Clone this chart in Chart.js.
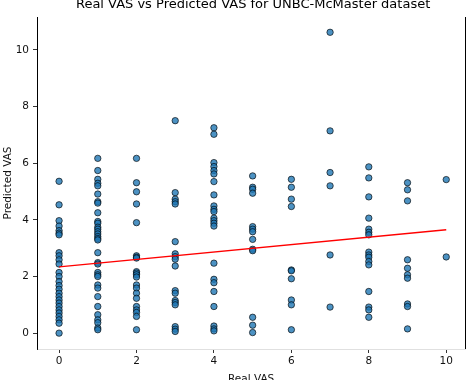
<!DOCTYPE html>
<html>
<head>
<meta charset="utf-8">
<script src="https://cdn.jsdelivr.net/npm/chart.js@4/dist/chart.umd.min.js"></script>
<style>
  html, body { margin: 0; padding: 0; background: #ffffff; }
  #c { display: block; }
</style>
</head>
<body>
<canvas id="c" width="470" height="380"></canvas>
<script>
// ---- Data ----
const chartTitle = 'Real VAS vs Predicted VAS for UNBC-McMaster dataset';
const xLabel = 'Real VAS';
const yLabel = 'Predicted VAS';

const xTicks = [0, 2, 4, 6, 8, 10];
const yTicks = [0, 2, 4, 6, 8, 10];

// Predicted VAS values for each Real VAS level
const pred0 = [5.36, 4.53, 3.97, 3.78, 3.62, 3.53, 3.47, 2.84, 2.73, 2.59, 2.44, 2.14, 2.0, 1.82, 1.68, 1.55, 1.41, 1.29, 1.17, 1.06, 0.94, 0.82, 0.71, 0.59, 0.47, 0.35, 0.0];
const pred1 = [6.17, 5.74, 5.43, 5.29, 5.2, 4.91, 4.64, 4.59, 4.25, 3.94, 3.88, 3.74, 3.67, 3.58, 3.5, 3.41, 3.34, 3.29, 2.84, 2.49, 2.44, 2.14, 2.06, 2.0, 1.70, 1.59, 1.29, 0.94, 0.65, 0.47, 0.37, 0.18, 0.12];
const pred2 = [6.17, 5.31, 4.99, 4.56, 3.90, 2.73, 2.68, 2.65, 2.17, 2.12, 2.06, 1.98, 1.70, 1.59, 1.41, 1.23, 0.94, 0.82, 0.73, 0.59, 0.12];
const pred3 = [7.5, 4.96, 4.73, 4.64, 4.56, 3.23, 2.80, 2.70, 2.61, 2.37, 1.50, 1.41, 1.15, 1.08, 1.0, 0.23, 0.14, 0.06];
const pred4 = [7.25, 7.02, 6.02, 5.88, 5.74, 5.62, 5.35, 4.88, 4.49, 4.37, 4.29, 4.06, 3.97, 3.88, 3.78, 2.47, 1.90, 1.78, 1.47, 0.94, 0.25, 0.15, 0.08];
const pred5 = [5.55, 5.15, 5.08, 4.94, 3.76, 3.67, 3.58, 3.31, 2.96, 2.91, 0.56, 0.28, 0.02];
const pred6 = [5.43, 5.15, 4.73, 4.47, 2.23, 2.20, 1.92, 1.17, 1.0, 0.12];
const pred7 = [10.62, 7.14, 5.67, 5.2, 2.76, 0.92];
const pred8 = [5.87, 5.48, 4.81, 4.06, 3.67, 3.56, 3.47, 2.86, 2.76, 2.68, 2.53, 2.41, 1.47, 0.92, 0.82, 0.56];
const pred9 = [5.31, 5.06, 4.67, 2.59, 2.29, 2.06, 1.94, 1.03, 0.94, 0.15];
const pred10 = [5.42, 2.69];

const realLevels = [0, 1, 2, 3, 4, 5, 6, 7, 8, 9, 10];
const predByLevel = [pred0, pred1, pred2, pred3, pred4, pred5, pred6, pred7, pred8, pred9, pred10];

// Fitted regression line endpoints
const fitX = [0, 10];
const fitY = [2.34, 3.65];

// ---- Build chart data ----
const scatterPoints = [];
realLevels.forEach((lv, i) => {
  predByLevel[i].forEach(v => scatterPoints.push({ x: lv, y: v }));
});
const fitPoints = fitX.map((x, i) => ({ x: x, y: fitY[i] }));

const FONT = '"DejaVu Sans", "Liberation Sans", sans-serif';

const framePlugin = {
  id: 'frame',
  afterDraw(chart) {
    const { ctx, chartArea } = chart;
    ctx.save();
    // right spine
    ctx.strokeStyle = '#000';
    ctx.lineWidth = 1;
    ctx.beginPath();
    ctx.moveTo(Math.round(chartArea.right) + 0.5, chartArea.top);
    ctx.lineTo(Math.round(chartArea.right) + 0.5, chartArea.bottom);
    ctx.stroke();
    // title
    ctx.fillStyle = '#000';
    ctx.font = '13px ' + FONT;
    ctx.textAlign = 'center';
    ctx.textBaseline = 'alphabetic';
    ctx.fillText(chartTitle, (chartArea.left + chartArea.right) / 2 + 2, 8);
    ctx.restore();
  }
};

new Chart(document.getElementById('c'), {
  type: 'scatter',
  data: {
    datasets: [
      {
        type: 'line',
        data: fitPoints,
        borderColor: '#ff0000',
        borderWidth: 1.4,
        pointRadius: 0,
        fill: false,
        showLine: true,
        order: 0
      },
      {
        data: scatterPoints,
        backgroundColor: 'rgba(31,119,180,0.8)',
        borderColor: 'rgba(0,0,0,0.8)',
        borderWidth: 0.8,
        pointRadius: 3.2,
        order: 1
      }
    ]
  },
  options: {
    responsive: false,
    animation: false,
    devicePixelRatio: 1,
    layout: { padding: { top: 17, right: 4, left: 0, bottom: 0 } },
    plugins: {
      legend: { display: false },
      tooltip: { enabled: false },
      title: { display: false }
    },
    scales: {
      x: {
        type: 'linear',
        min: -0.57,
        max: 10.49,
        afterFit(scale) { scale.height = 31; },
        afterBuildTicks(scale) { scale.ticks = xTicks.map(v => ({ value: v })); },
        grid: {
          display: true,
          drawOnChartArea: false,
          drawTicks: true,
          tickLength: 4,
          color: '#000',
          lineWidth: 0.8
        },
        border: { display: true, color: '#e0e0e0', width: 1 },
        ticks: {
          color: '#111',
          padding: 2,
          maxRotation: 0,
          autoSkip: false,
          font: { family: FONT, size: 10.5 }
        },
        title: {
          display: true,
          text: xLabel,
          color: '#111',
          font: { family: FONT, size: 10.5 },
          padding: { top: 0, bottom: -6 }
        }
      },
      y: {
        type: 'linear',
        min: -0.56,
        max: 11.16,
        afterFit(scale) { scale.width = 37; },
        afterBuildTicks(scale) { scale.ticks = yTicks.map(v => ({ value: v })); },
        grid: {
          display: true,
          drawOnChartArea: false,
          drawTicks: true,
          tickLength: 4,
          color: '#000',
          lineWidth: 0.8
        },
        border: { display: true, color: '#000', width: 1 },
        ticks: {
          color: '#111',
          padding: 4,
          autoSkip: false,
          font: { family: FONT, size: 10.5 }
        },
        title: {
          display: true,
          text: yLabel,
          color: '#111',
          font: { family: FONT, size: 10.5 },
          padding: { top: 2, bottom: 0 }
        }
      }
    }
  },
  plugins: [framePlugin]
});
</script>
</body>
</html>
